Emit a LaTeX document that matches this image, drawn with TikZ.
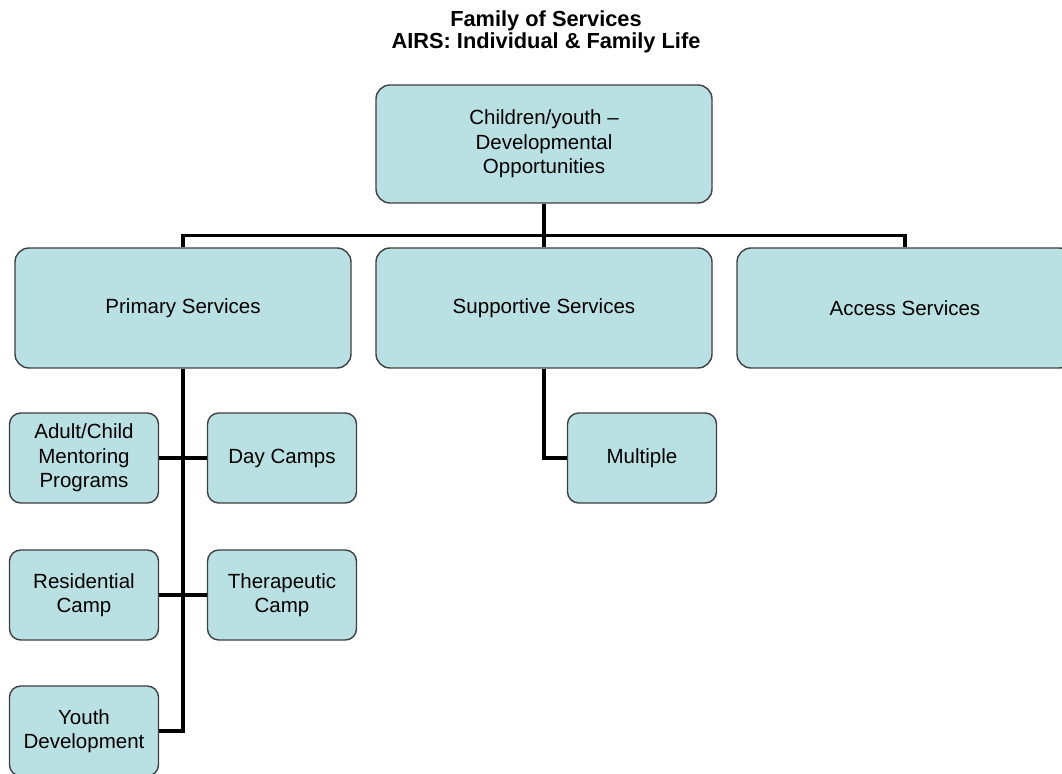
\documentclass[tikz,border=0pt]{standalone}
\usepackage{fontspec}
\setmainfont{Liberation Sans}
\usetikzlibrary{positioning}
\usetikzlibrary{calc}
\definecolor{boxfill}{RGB}{185,224,227}
\definecolor{boxline}{RGB}{64,64,64}
\tikzset{svc/.style={draw=boxline, line width=1pt, fill=boxfill, rounded corners=10pt, minimum width=8.4cm, minimum height=3cm, align=center, inner sep=2pt, font=\fontsize{14.6}{17.4}\selectfont}}
\tikzset{leaf/.style={svc, rounded corners=8pt, minimum width=3.725cm, minimum height=2.25cm}}
\tikzset{link/.style={draw=black, line width=2.4pt}}

\begin{document}
\begin{tikzpicture}
\useasboundingbox[fill=white] (0,0) rectangle (26.55,-19.35);
\node[align=center, font=\fontsize{15.5}{15.8}\selectfont\bfseries] (title) at (13.65, -0.8) {Family of Services\\AIRS: Individual \& Family Life};
\begin{scope}[on grid]
\node[svc, minimum height=2.95cm] (root) at (13.6, -3.6) {Children/youth \textendash\\Developmental\\Opportunities};
\node[svc] (prim) [below left = 4.1 and 9.025 of root] {Primary Services};
\node[svc] (sup) [below = 4.1 of root] {Supportive Services};
\node[svc] (acc) [below right = 4.1 and 9.025 of root] {Access Services};

\node[leaf] (adult) [below left = 3.75 and 2.475 of prim] {Adult/Child\\Mentoring\\Programs};
\node[leaf] (day) [below right = 3.75 and 2.475 of prim] {Day Camps};
\node[leaf] (res) [below = 3.425 of adult] {Residential\\Camp};
\node[leaf] (ther) [below = 3.425 of day] {Therapeutic\\Camp};
\node[leaf] (youth) [below = 3.4 of res] {Youth\\Development};
\node[leaf] (mult) [below right = 3.75 and 2.45 of sup] {Multiple};
\end{scope}

\coordinate (bus) at ($(root.south)+(0,-0.8)$);
\draw[link] (root.south) -- (bus);
\draw[link] (bus) -| (prim.north);
\draw[link] (bus) -- (sup.north);
\draw[link] (bus) -| (acc.north);

\draw[link] (prim.south) |- (youth.east);
\draw[link] (adult.east) -- (day.west);
\draw[link] (res.east) -- (ther.west);

\draw[link] (sup.south) |- (mult.west);
\end{tikzpicture}
\end{document}
